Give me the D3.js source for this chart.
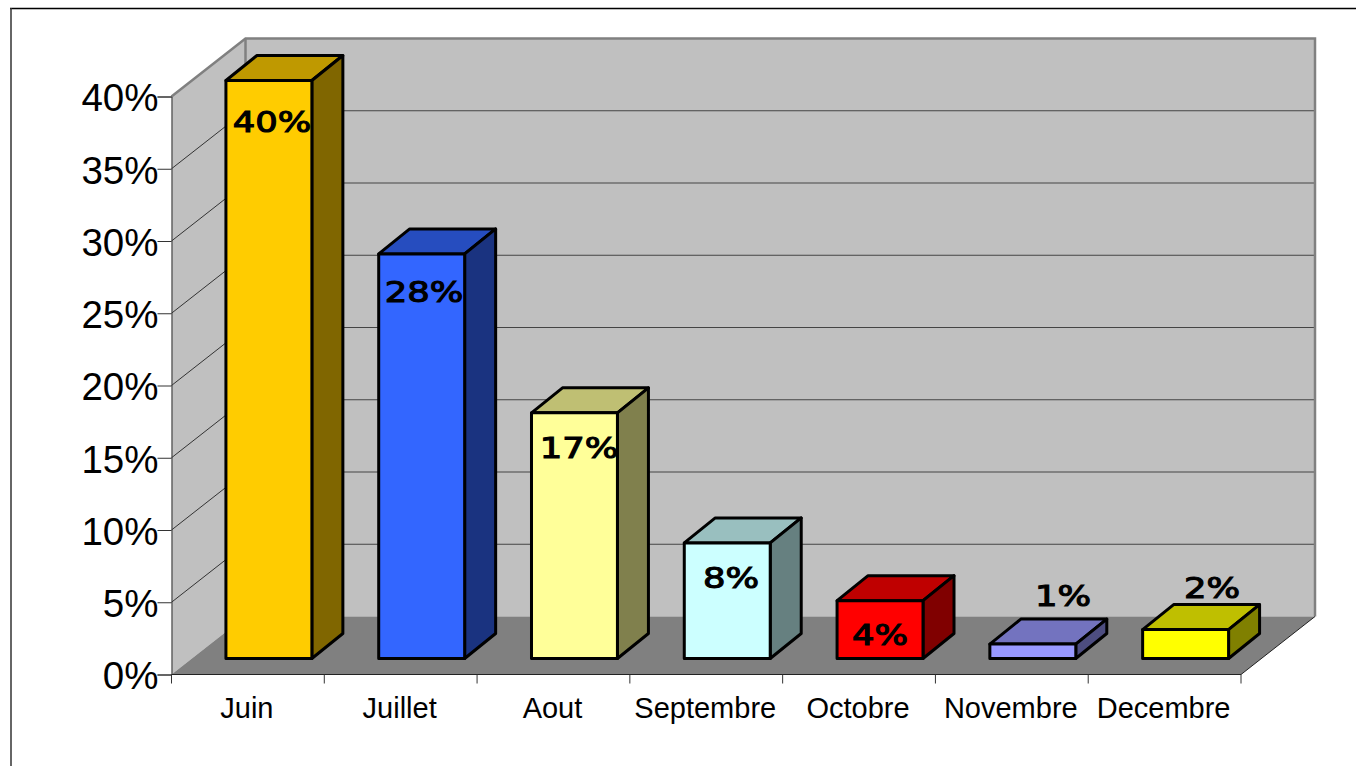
<!DOCTYPE html>
<html>
<head>
<meta charset="utf-8">
<script src="https://cdn.jsdelivr.net/npm/d3@7"></script>
<style>
html, body { margin: 0; padding: 0; background: #fff; overflow: hidden; }
text { fill: #000; }
</style>
</head>
<body>
<div id="chart"></div>
<script>
var w = 1356, h = 766;

var months = ['Juin', 'Juillet', 'Aout', 'Septembre', 'Octobre', 'Novembre', 'Decembre'];
var percents = [40, 28, 17, 8, 4, 1, 2];
var ticks = [0, 5, 10, 15, 20, 25, 30, 35, 40];
var frontColors = ['#ffcc00', '#3366ff', '#ffff99', '#ccffff', '#ff0000', '#9999ff', '#ffff00'];
var topColors = ['#bf9900', '#264dbf', '#bfbf73', '#99bfbf', '#bf0000', '#7373bf', '#bfbf00'];
var sideColors = ['#806600', '#1a3380', '#80804d', '#668080', '#800000', '#4d4d80', '#808000'];

// depth of the room and of one bar, in pixels
var roomDx = 74, roomDy = -58;
var barDx = 31, barDy = -25;
var barShift = 21, barDrop = -16;

var x = d3.scaleBand().domain(months).range([171.5, 1241])
	.paddingInner(0.4375).paddingOuter(0.21875);
var tickX = d3.scalePoint().domain(d3.range(8)).range([171.5, 1241]);
var y = d3.scaleLinear().domain([0, 40]).range([674.5, 96.5]);

var pct = function(d) { return d + '%'; };
var pts = function(a) { return a.map(function(p) { return p.join(','); }).join(' '); };

var svg = d3.select('#chart').append('svg')
	.attr('width', w)
	.attr('height', h)
	.style('display', 'block');

// outer frame: only top and left show, the rest is cropped away
svg.append('line').attr('x1', 10).attr('x2', w).attr('y1', 8.5).attr('y2', 8.5)
	.attr('stroke', '#000').attr('stroke-width', 1.5);
svg.append('line').attr('x1', 10).attr('x2', w).attr('y1', 9.5).attr('y2', 9.5)
	.attr('stroke', '#bbb').attr('stroke-width', 1);
svg.append('line').attr('x1', 11).attr('x2', 11).attr('y1', 8).attr('y2', h)
	.attr('stroke', '#333').attr('stroke-width', 1.5);

var x0 = x.range()[0], x1 = x.range()[1], y0 = y(0), yTop = y(40);

// walls and floor
svg.append('polygon').attr('fill', '#c0c0c0')
	.attr('points', pts([[x0, y0], [x0, yTop], [x0 + roomDx, yTop + roomDy], [x0 + roomDx, y0 + roomDy]]));
svg.append('polygon').attr('fill', '#c0c0c0')
	.attr('points', pts([[x0 + roomDx, yTop + roomDy], [x1 + roomDx, yTop + roomDy], [x1 + roomDx, y0 + roomDy], [x0 + roomDx, y0 + roomDy]]));
svg.append('polygon').attr('fill', '#808080')
	.attr('points', pts([[x0, y0], [x0 + roomDx, y0 + roomDy], [x1 + roomDx, y0 + roomDy], [x1, y0]]));

// gridlines
svg.selectAll('.grid-back').data(ticks.slice(1, -1)).enter().append('line')
	.attr('x1', x0 + roomDx).attr('x2', x1 + roomDx)
	.attr('y1', function(d) { return y(d) + roomDy; })
	.attr('y2', function(d) { return y(d) + roomDy; })
	.attr('stroke', '#444').attr('stroke-width', 1.2);
svg.selectAll('.grid-side').data(ticks.slice(1, -1)).enter().append('line')
	.attr('x1', x0).attr('x2', x0 + roomDx)
	.attr('y1', function(d) { return y(d); })
	.attr('y2', function(d) { return y(d) + roomDy; })
	.attr('stroke', '#333').attr('stroke-width', 1);

// room outline
svg.append('polyline').attr('fill', 'none').attr('stroke', '#808080').attr('stroke-width', 2.5)
	.attr('points', pts([[x0, yTop], [x0 + roomDx, yTop + roomDy], [x1 + roomDx, yTop + roomDy], [x1 + roomDx, y0 + roomDy]]));
svg.append('line').attr('stroke', '#808080').attr('stroke-width', 2.5)
	.attr('x1', x0 + roomDx).attr('x2', x0 + roomDx)
	.attr('y1', yTop + roomDy).attr('y2', y0 + roomDy);

// bars
var bar = svg.selectAll('.bar').data(months).enter().append('g')
	.attr('transform', 'translate(' + barShift + ',' + barDrop + ')')
	.attr('stroke', '#000').attr('stroke-width', 3).attr('stroke-linejoin', 'round');

bar.append('polygon')
	.attr('fill', function(d, i) { return topColors[i]; })
	.attr('points', function(d, i) {
		var l = x(d), r = l + x.bandwidth(), t = y(percents[i]);
		return pts([[l, t], [l + barDx, t + barDy], [r + barDx, t + barDy], [r, t]]);
	});
bar.append('polygon')
	.attr('fill', function(d, i) { return sideColors[i]; })
	.attr('points', function(d, i) {
		var r = x(d) + x.bandwidth(), t = y(percents[i]);
		return pts([[r, t], [r + barDx, t + barDy], [r + barDx, y0 + barDy], [r, y0]]);
	});
bar.append('rect')
	.attr('fill', function(d, i) { return frontColors[i]; })
	.attr('x', function(d) { return x(d); })
	.attr('y', function(d, i) { return y(percents[i]); })
	.attr('width', x.bandwidth())
	.attr('height', function(d, i) { return y0 - y(percents[i]); });

// axes
var yAxis = d3.axisLeft(y).tickValues(ticks).tickFormat(pct).tickSize(14).tickPadding(0);
var yg = svg.append('g').attr('transform', 'translate(' + x0 + ',0)').call(yAxis);
yg.select('.domain').attr('stroke', '#333');
yg.selectAll('.tick line').attr('stroke', '#333');
yg.selectAll('text')
	.attr('font-family', '"Liberation Sans", Arial, sans-serif')
	.attr('font-size', 38.5)
	.attr('x', -13)
	.attr('dy', '0.37em')
	.attr('fill', '#000');

svg.append('line').attr('x1', x0).attr('x2', x1).attr('y1', y0).attr('y2', y0).attr('stroke', '#222');
svg.append('line').attr('x1', x1).attr('x2', x1 + roomDx).attr('y1', y0).attr('y2', y0 + roomDy).attr('stroke', '#222');
svg.selectAll('.xtick').data(tickX.domain()).enter().append('line')
	.attr('x1', function(d) { return tickX(d); })
	.attr('x2', function(d) { return tickX(d); })
	.attr('y1', y0).attr('y2', y0 + 9)
	.attr('stroke', '#333');

svg.selectAll('.xlabel').data(months).enter().append('text')
	.attr('x', function(d) { return x(d) + x.bandwidth() / 2 - 1; })
	.attr('y', 718)
	.attr('text-anchor', 'middle')
	.attr('font-family', '"Liberation Sans", Arial, sans-serif')
	.attr('font-size', 29)
	.text(function(d) { return d; });

// value labels: inside the tall bars, above the two short ones
// the original type is a wide semi-bold, so stretch it sideways
var labelY = [132, 302, 458, 588, 645, 606, 598];
var labelX = [272, 424, 579, 731, 880, 1063, 1212];
svg.selectAll('.value').data(percents).enter().append('text')
	.attr('transform', function(d, i) { return 'translate(' + labelX[i] + ',' + labelY[i] + ') scale(1.22,1)'; })
	.attr('text-anchor', 'middle')
	.attr('font-family', '"DejaVu Sans", Verdana, sans-serif')
	.attr('font-size', 29)
	.attr('stroke', '#000')
	.attr('stroke-width', 1.1)
	.text(pct);
</script>
</body>
</html>
